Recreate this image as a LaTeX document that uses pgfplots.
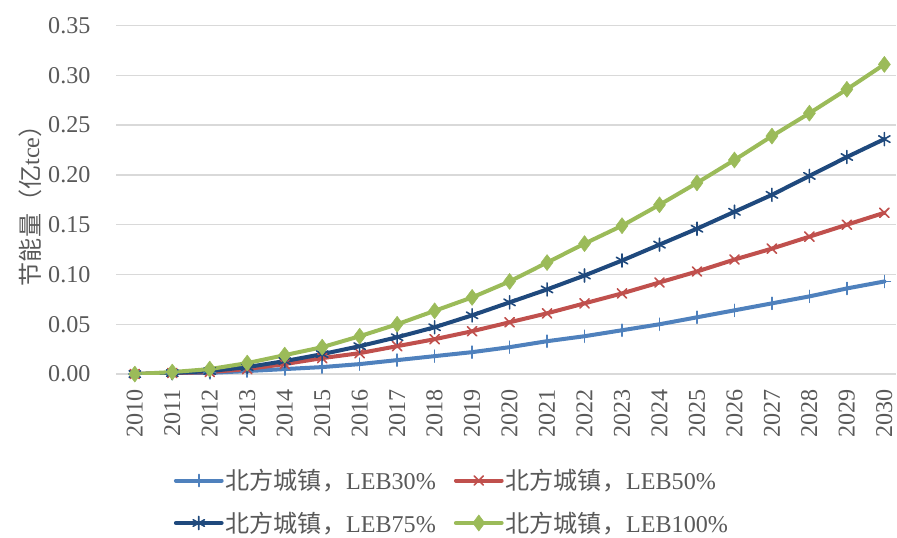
\documentclass[border={15pt 0pt 0pt 14pt}]{standalone}
\usepackage{pgfplots}
\pgfplotsset{compat=1.18}
\usepackage{fontspec}
\setmainfont{Liberation Serif}
\newfontfamily\cjk{Noto Sans CJK SC}
\definecolor{sBlue}{HTML}{4F81BD}
\definecolor{sRed}{HTML}{C0504D}
\definecolor{sNavy}{HTML}{1F497D}
\definecolor{sGreen}{HTML}{9BBB59}
\definecolor{txt}{HTML}{595959}
\begin{document}
\begin{tikzpicture}
\begin{axis}[
    scale only axis,
    width=777pt, height=347pt,
    xmin=2009.5, xmax=2030.32,
    ymin=0, ymax=0.35,
    xtick={2010,...,2030},
    ytick={0,0.05,0.10,0.15,0.20,0.25,0.30,0.35},
    /pgf/number format/assume math mode=true,
    xticklabel style={rotate=90, anchor=east, /pgf/number format/1000 sep={}},
    yticklabel style={/pgf/number format/.cd, fixed, fixed zerofill, precision=2},
    tick label style={font=\fontsize{24}{28}\selectfont, text=txt},
    major tick length=0pt,
    xtick pos=bottom, ytick pos=left,
    xticklabel shift=12pt, yticklabel shift=22pt,
    axis line style={draw=none},
    ymajorgrids,
    grid style={draw=black!15, line width=1.3pt},
    ylabel={{\cjk 节能量（亿}tce{\cjk ）}},
    ylabel style={font=\fontsize{24}{28}\selectfont, text=txt},
    ylabel shift=0pt,
    clip=true,
    legend columns=2,
    legend cell align=left,
    legend style={at={(0.07,-0.262)}, anchor=north west, draw=none,
        font=\fontsize{24}{28}\selectfont, text=txt,
        /tikz/every even column/.append style={column sep=16pt},
        row sep=16.5pt},
    legend image code/.code={
        \draw[#1, mark repeat=2, mark phase=2] plot coordinates {(0cm,0cm) (0.8cm,0cm) (1.6cm,0cm)};
    },
    every axis plot/.append style={line width=4pt, line join=round, line cap=round},
]
\addplot[sBlue, mark=+, mark size=6pt, mark options={line width=1.6pt}] coordinates {
(2010,0) (2011,0.0005) (2012,0.0012) (2013,0.003) (2014,0.005) (2015,0.007)
(2016,0.010) (2017,0.014) (2018,0.018) (2019,0.022) (2020,0.027)
(2021,0.033) (2022,0.038) (2023,0.044) (2024,0.050) (2025,0.057)
(2026,0.064) (2027,0.071) (2028,0.078) (2029,0.086) (2030,0.093)};
\addlegendentry{{\cjk 北方城镇，}LEB30\%}
\addplot[sRed, mark=x, mark size=6.5pt, mark options={line width=1.6pt}] coordinates {
(2010,0) (2011,0.001) (2012,0.002) (2013,0.005) (2014,0.010) (2015,0.016)
(2016,0.021) (2017,0.028) (2018,0.035) (2019,0.043) (2020,0.052)
(2021,0.061) (2022,0.071) (2023,0.081) (2024,0.092) (2025,0.103)
(2026,0.115) (2027,0.126) (2028,0.138) (2029,0.150) (2030,0.162)};
\addlegendentry{{\cjk 北方城镇，}LEB50\%}
\addplot[sNavy, mark=asterisk, mark size=6.5pt, mark options={line width=1.6pt}] coordinates {
(2010,0) (2011,0.001) (2012,0.003) (2013,0.007) (2014,0.013) (2015,0.020)
(2016,0.028) (2017,0.037) (2018,0.047) (2019,0.059) (2020,0.072)
(2021,0.085) (2022,0.099) (2023,0.114) (2024,0.130) (2025,0.146)
(2026,0.163) (2027,0.180) (2028,0.199) (2029,0.218) (2030,0.236)};
\addlegendentry{{\cjk 北方城镇，}LEB75\%}
\addplot[sGreen, mark=diamond*, mark size=8pt, mark options={line width=0.5pt, fill=sGreen}] coordinates {
(2010,0) (2011,0.002) (2012,0.005) (2013,0.011) (2014,0.019) (2015,0.027)
(2016,0.038) (2017,0.050) (2018,0.0635) (2019,0.077) (2020,0.093)
(2021,0.112) (2022,0.131) (2023,0.149) (2024,0.170) (2025,0.192)
(2026,0.215) (2027,0.239) (2028,0.262) (2029,0.286) (2030,0.311)};
\addlegendentry{{\cjk 北方城镇，}LEB100\%}
\end{axis}
\end{tikzpicture}
\end{document}
